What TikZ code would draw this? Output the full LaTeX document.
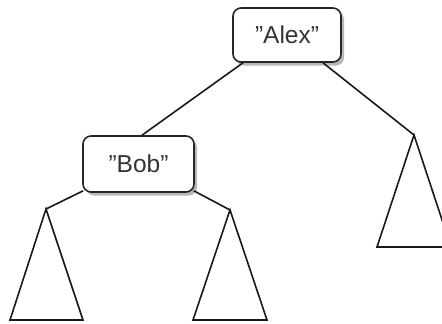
\documentclass[tikz,border=0pt]{standalone}
\usepackage{fontspec}
\setmainfont{Liberation Sans}
\usetikzlibrary{shadows,calc}
\begin{document}
\begin{tikzpicture}[x=1pt,y=-1pt,
  keybox/.style={draw=black!85, line width=1.6pt, rounded corners=8pt, fill=white,
    minimum width=#1, minimum height=54pt, inner sep=0pt,
    font=\fontsize{24.5}{28}\selectfont, text=black!80,
    drop shadow={shadow xshift=3pt, shadow yshift=-3.5pt, fill=black!28, opacity=1}},
  edge/.style={line width=1.6pt, draw=black!90, line join=round},
  subtree/.style={line width=1.6pt, draw=black!90, line join=miter}]
  \useasboundingbox (0,0) rectangle (442,324);
  \clip (0,0) rectangle (442,324);

  % subtree apexes
  \coordinate (tl) at (46,209);
  \coordinate (tm) at (230,210);
  \coordinate (tr) at (414,135);

  % subtrees
  \draw[subtree] (tl) -- (10,320) -- (83,320) -- cycle;
  \draw[subtree] (tm) -- (193,320) -- (267,320) -- cycle;
  \draw[subtree] (tr) -- (377,247) -- (451,247) -- cycle;

  % keys
  \node[keybox=108pt] (alex) at (287,35) {"Alex"};
  \node[keybox=111pt, minimum height=56pt] (bob) at (138.5,164) {"Bob"};

  % edges
  \draw[edge] ($(alex.south)+(-44,0)$) -- ($(bob.north)+(3.5,0)$);
  \draw[edge] ($(alex.south)+(36,0)$) -- (tr);
  \draw[edge] ($(bob.south west)+(1,-2)$) -- (tl);
  \draw[edge] ($(bob.south east)+(-1,-2)$) -- (tm);
\end{tikzpicture}
\end{document}
